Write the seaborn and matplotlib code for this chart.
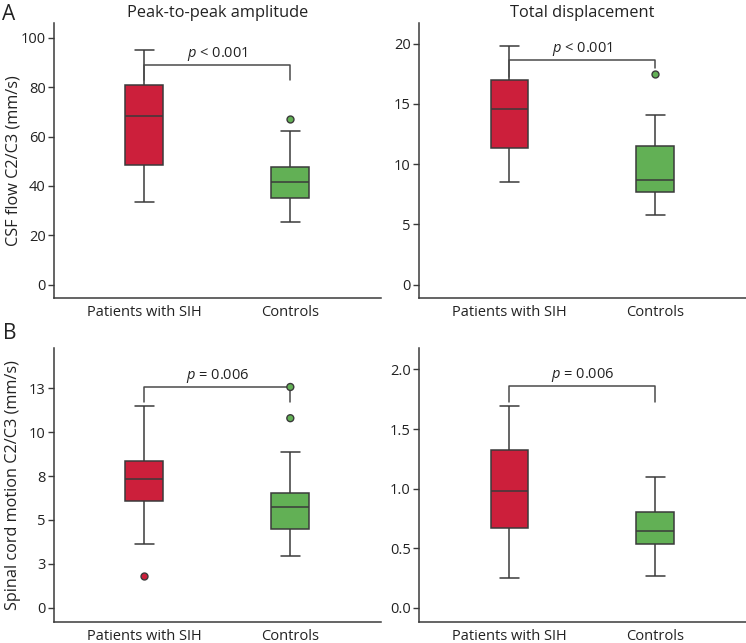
import matplotlib
matplotlib.use("Agg")
import matplotlib.pyplot as plt
import seaborn as sns
import pandas as pd

# Groups and colours
groups = ["Patients with SIH", "Controls"]
colors = {"Patients with SIH": "#cc1f3b", "Controls": "#62b055"}

# Box summaries: lower whisker, Q1, median, Q3, upper whisker
amp_csf_sih = [33.6, 48.4, 68.3, 80.8, 95.0]
amp_csf_ctrl = [25.2, 35.2, 41.4, 47.6, 62.1]
amp_csf_out_sih = []
amp_csf_out_ctrl = [67.1]

disp_csf_sih = [8.5, 11.3, 14.6, 17.0, 19.8]
disp_csf_ctrl = [5.8, 7.7, 8.7, 11.5, 14.1]
disp_csf_out_sih = []
disp_csf_out_ctrl = [17.5]

amp_cord_sih = [3.65, 6.07, 7.35, 8.36, 11.5]
amp_cord_ctrl = [2.92, 4.50, 5.71, 6.53, 8.85]
amp_cord_out_sih = [1.81]
amp_cord_out_ctrl = [10.8, 12.58]

disp_cord_sih = [0.25, 0.67, 0.976, 1.326, 1.69]
disp_cord_ctrl = [0.263, 0.537, 0.64, 0.806, 1.094]
disp_cord_out_sih = []
disp_cord_out_ctrl = []

# p-values and bracket heights (bar, left leg end, right leg end)
p_texts = ["< 0.001", "< 0.001", "= 0.006", "= 0.006"]
brackets = [(89.0, 83.0, 83.0), (18.6, 17.2, 18.0), (12.58, 11.7, 11.7), (1.86, 1.73, 1.73)]

# Axis settings
ylims = [(-5.4, 106), (-1.1, 21.7), (-0.82, 14.8), (-0.12, 2.18)]
yticks = [[0, 20, 40, 60, 80, 100], [0, 5, 10, 15, 20],
          [0, 2.5, 5, 7.5, 10, 12.5], [0, 0.5, 1.0, 1.5, 2.0]]
yticklabels = [["0", "20", "40", "60", "80", "100"], ["0", "5", "10", "15", "20"],
               ["0", "3", "5", "8", "10", "13"], ["0.0", "0.5", "1.0", "1.5", "2.0"]]
titles = ["Peak-to-peak amplitude", "Total displacement", "", ""]
ylabels = ["CSF flow C2/C3 (mm/s)", "", "Spinal cord motion C2/C3 (mm/s)", ""]

panels = [
    (amp_csf_sih, amp_csf_ctrl, amp_csf_out_sih, amp_csf_out_ctrl),
    (disp_csf_sih, disp_csf_ctrl, disp_csf_out_sih, disp_csf_out_ctrl),
    (amp_cord_sih, amp_cord_ctrl, amp_cord_out_sih, amp_cord_out_ctrl),
    (disp_cord_sih, disp_cord_ctrl, disp_cord_out_sih, disp_cord_out_ctrl),
]

sns.set_theme(style="ticks")
plt.rcParams["font.family"] = ["Open Sans", "DejaVu Sans"]
plt.rcParams["mathtext.fontset"] = "custom"
plt.rcParams["mathtext.rm"] = "Open Sans"
plt.rcParams["mathtext.it"] = "Open Sans:italic"

axis_color = "#3a3a3a"
text_color = "#222222"

fig = plt.figure(figsize=(7.46, 6.43), dpi=100)
positions = [
    [0.0724, 0.5365, 0.438, 0.4277],
    [0.5617, 0.5365, 0.438, 0.4277],
    [0.0724, 0.0327, 0.438, 0.426],
    [0.5617, 0.0327, 0.438, 0.426],
]

for i, (sih, ctrl, out_sih, out_ctrl) in enumerate(panels):
    ax = fig.add_axes(positions[i])
    box_df = pd.DataFrame({
        "group": [groups[0]] * len(sih) + [groups[1]] * len(ctrl),
        "value": sih + ctrl,
    })
    out_df = pd.DataFrame({
        "group": [groups[0]] * len(out_sih) + [groups[1]] * len(out_ctrl),
        "value": out_sih + out_ctrl,
    })

    sns.boxplot(data=box_df, x="group", y="value", hue="group", order=groups,
                hue_order=groups, palette=colors, whis=(0, 100), showfliers=False,
                width=0.26, linewidth=1.1, linecolor=axis_color, saturation=1,
                legend=False, ax=ax)
    if len(out_df):
        sns.stripplot(data=out_df, x="group", y="value", hue="group", order=groups,
                      hue_order=groups, palette=colors, jitter=False, size=5,
                      linewidth=1, edgecolor=axis_color, legend=False, ax=ax)

    # significance bracket
    top, left_end, right_end = brackets[i]
    ax.plot([0, 0, 1, 1], [left_end, top, top, right_end], color="#4a4a4a", lw=1.1)
    ax.annotate("$p$ " + p_texts[i], xy=(0.5, top), xytext=(0, 6),
                textcoords="offset points", ha="center", va="baseline",
                fontsize=10.5, color=text_color)

    ax.set_xlim(-0.62, 1.62)
    ax.set_ylim(*ylims[i])
    ax.set_yticks(yticks[i])
    ax.set_yticklabels(yticklabels[i])
    ax.set_xlabel("")
    ax.set_ylabel(ylabels[i], fontsize=11.7, color=text_color)
    ax.yaxis.set_label_coords(-0.1, 0.5)
    if titles[i]:
        ax.set_title(titles[i], fontsize=11.8, color=text_color, pad=4)

    sns.despine(ax=ax)
    for side in ["left", "bottom"]:
        ax.spines[side].set_color(axis_color)
        ax.spines[side].set_linewidth(1.1)
    ax.tick_params(axis="x", length=0, pad=5, labelsize=10.5, colors=text_color)
    ax.tick_params(axis="y", length=4, width=1, color=axis_color, pad=2,
                   labelsize=10.5, labelcolor=text_color)

fig.text(0.003, 0.994, "A", fontsize=15, va="top", ha="left", color=text_color)
fig.text(0.004, 0.497, "B", fontsize=15, va="top", ha="left", color=text_color)

fig.savefig("out.png", dpi=100)
